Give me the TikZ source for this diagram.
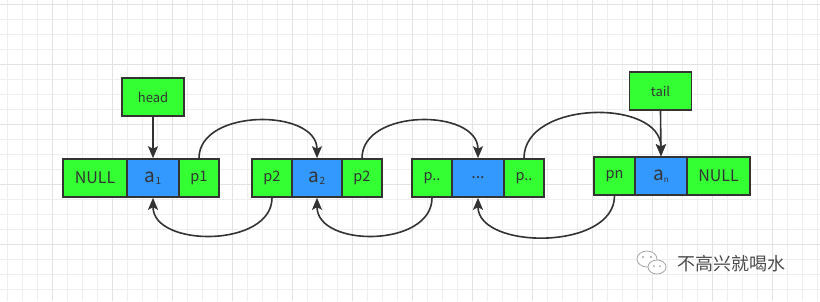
\documentclass[tikz,border=0pt]{standalone}
\usepackage{fontspec}
\setmainfont{Noto Sans CJK SC}
\usetikzlibrary{arrows.meta}
\definecolor{cgreen}{HTML}{33FF33}
\definecolor{cblue}{HTML}{3399FF}
\definecolor{cline}{HTML}{333333}
\definecolor{gridminor}{HTML}{EEEEEE}
\definecolor{gridmajor}{HTML}{E2E2E2}
\newcommand{\sub}[2]{{\fontsize{19}{19}\selectfont #1}\raisebox{-2pt}{\fontsize{10}{10}\selectfont #2}}
\tikzset{
  cell/.style={draw=cline, line width=1.6pt, minimum height=38pt, inner sep=0pt, text=cline, font=\fontsize{14.5}{14.5}\selectfont},
  gcell/.style={cell, fill=cgreen},
  bcell/.style={cell, fill=cblue},
  ptr/.style={draw=cline, line width=1.6pt, fill=cgreen, minimum width=62pt, minimum height=38pt, inner sep=0pt, text=cline, font=\fontsize{13}{13}\selectfont},
  arr/.style={draw=cline, line width=1.6pt, -{Stealth[length=12pt,width=10pt,inset=2.5pt]}}
}
\begin{document}
\begin{tikzpicture}[x=1pt,y=-1pt]
\useasboundingbox (0,0) rectangle (820,301);
\fill[white] (0,0) rectangle (820,301);
% grid
\foreach \x in {7,22,...,817} \draw[gridminor, line width=0.8pt] (\x,0) -- (\x,301);
\foreach \y in {4,19,...,301} \draw[gridminor, line width=0.8pt] (0,\y) -- (820,\y);
\foreach \x in {52,112,...,817} \draw[gridmajor, line width=0.8pt] (\x,0) -- (\x,301);
\foreach \y in {4,64,...,301} \draw[gridmajor, line width=0.8pt] (0,\y) -- (820,\y);
% node 1
\node[gcell, minimum width=64pt, font=\fontsize{16}{16}\selectfont] (n1a) at (95,178) {NULL};
\node[bcell, minimum width=52pt] (n1b) at (153,178) {\sub{a}{1}};
\node[gcell, minimum width=40pt] (n1c) at (199,178) {p1};
% node 2
\node[gcell, minimum width=40pt] (n2a) at (272,178) {p2};
\node[bcell, minimum width=50pt] (n2b) at (317,178) {\sub{a}{2}};
\node[gcell, minimum width=40pt] (n2c) at (362,178) {p2};
% node 3
\node[gcell, minimum width=40pt] (n3a) at (432,178) {p..};
\node[bcell, minimum width=52pt] (n3b) at (478,178) {\fontsize{16}{16}\selectfont ...};
\node[gcell, minimum width=40pt] (n3c) at (524,178) {p..};
% node 4
\node[gcell, minimum width=41pt] (n4a) at (614.5,176) {pn};
\node[bcell, minimum width=52pt] (n4b) at (661,176) {\sub{a}{\fontsize{8}{8}\selectfont n}};
\node[gcell, minimum width=63pt, font=\fontsize{16}{16}\selectfont] (n4c) at (718.5,176) {NULL};
% head / tail
\node[ptr] (head) at (153,97) {head};
\node[ptr] (tail) at (660.5,91) {tail};
% arrows
\draw[arr] (head.south) -- (n1b.north);
\draw[arr] (tail.south) -- (n4b.north);
\draw[arr] (n1c.north) .. controls +(0,-50) and +(0,-50) .. (n2b.north);
\draw[arr] (n2c.north) .. controls +(0,-50) and +(0,-50) .. (n3b.north);
\draw[arr] (n3c.north) .. controls +(0,-58) and +(0,-58) .. (n4b.north);
\draw[arr] (n2a.south) .. controls +(0,50) and +(0,50) .. (n1b.south);
\draw[arr] (n3a.south) .. controls +(0,50) and +(0,50) .. (n2b.south);
\draw[arr] (n4a.south) .. controls +(0,55) and +(0,52) .. (n3b.south);
% watermark icon
\begin{scope}[draw=gray!70, line width=0.8pt]
\draw[fill=white] (647,259) ellipse [x radius=10, y radius=8];
\fill[gray!70] (643,257) circle (1.1) (651,257) circle (1.1);
\draw[fill=white] (657,267) ellipse [x radius=9, y radius=7];
\fill[gray!70] (654,266) circle (1) (660,266) circle (1);
\end{scope}
\node[text=black!70, font=\fontsize{18}{18}\selectfont] (wm) at (731,264) {不高兴就喝水};
\end{tikzpicture}
\end{document}
